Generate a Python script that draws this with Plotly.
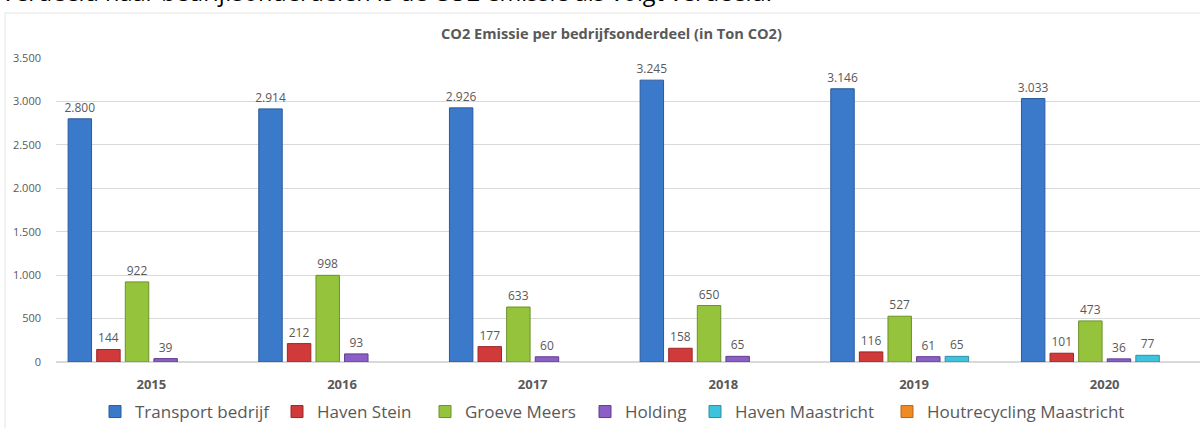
import plotly.graph_objects as go

years = ["2015", "2016", "2017", "2018", "2019", "2020"]
transport_bedrijf = [2800, 2914, 2926, 3245, 3146, 3033]
haven_stein = [144, 212, 177, 158, 116, 101]
groeve_meers = [922, 998, 633, 650, 527, 473]
holding = [39, 93, 60, 65, 61, 36]
haven_maastricht = [None, None, None, None, 65, 77]
houtrecycling_maastricht = [None, None, None, None, None, None]

series = [
    ("Transport bedrijf", transport_bedrijf, "#3b79cb", "#2a5a9a", 137),
    ("Haven Stein", haven_stein, "#d03a3a", "#9e2626", 103),
    ("Groeve Meers", groeve_meers, "#95c43c", "#6d9128", 115),
    ("Holding", holding, "#8b5fc6", "#5f3d8f", 65),
    ("Haven Maastricht", haven_maastricht, "#3ec3dc", "#2a8fa3", 147),
    ("Houtrecycling Maastricht", houtrecycling_maastricht, "#f08a24", "#b8651a", 220),
]

FONT = "'Open Sans', Lato, sans-serif"
GREY = "#595959"

fig = go.Figure()
for name, vals, col, line, lw in series:
    fig.add_trace(go.Bar(
        name=name, x=years, y=vals,
        marker=dict(color=col, line=dict(color=line, width=1)),
        texttemplate="%{y:,.0f}", textposition="outside",
        textfont=dict(family=FONT, size=12, color=GREY),
        constraintext="none", cliponaxis=False,
        legendwidth=lw,
    ))

fig.update_layout(
    width=1200, height=428,
    margin=dict(l=56, r=0, t=58, b=66, autoexpand=False),
    paper_bgcolor="white", plot_bgcolor="white",
    barmode="group", bargap=0.10, bargroupgap=0.18,
    separators=",.",
    font=dict(family=FONT, color=GREY),
    showlegend=True,
    legend=dict(
        orientation="h", x=(95 - 56) / 1144, xanchor="left",
        y=(362 - 412) / 304, yanchor="middle",
        font=dict(family=FONT, size=17, color=GREY),
        itemwidth=30, traceorder="normal", bgcolor="rgba(0,0,0,0)",
    ),
    annotations=[
        dict(text="<b>CO2 Emissie per bedrijfsonderdeel (in Ton CO2)</b>",
             xref="paper", yref="paper", x=(611 - 56) / 1144, y=(362 - 33) / 304,
             xanchor="center", yanchor="middle", showarrow=False,
             font=dict(family=FONT, size=14.6, color=GREY)),
        dict(text="Verdeeld naar bedrijfsonderdelen is de CO2 emissie als volgt verdeeld:",
             xref="paper", yref="paper", x=-57 / 1144, y=(362 - 10) / 304,
             xanchor="left", yanchor="bottom", showarrow=False,
             font=dict(family=FONT, size=23.5, color="#000000")),
    ],
    shapes=[
        dict(type="rect", xref="paper", yref="paper",
             x0=-51 / 1144, x1=1.01, y0=-0.3, y1=(362 - 13) / 304,
             line=dict(color="#e3e3e3", width=1), fillcolor="rgba(0,0,0,0)",
             layer="below"),
    ],
)

fig.update_xaxes(
    type="category", showgrid=False, showline=True, linecolor="#d9d9d9",
    tickfont=dict(family=FONT, size=13, color=GREY),
    tickprefix="<b>", ticksuffix="</b>", ticklabelstandoff=10,
)
fig.update_yaxes(
    range=[0, 3500], dtick=500, tickformat=",.0f",
    showgrid=True, gridcolor="#d9d9d9", gridwidth=1,
    zeroline=True, zerolinecolor="#d9d9d9",
    tickfont=dict(family=FONT, size=11, color=GREY), ticklabelstandoff=14,
)

fig.write_html(
    "out.html",
    config={"displayModeBar": False},
    post_script="document.body.style.margin='0';document.body.style.overflow='hidden';",
)
